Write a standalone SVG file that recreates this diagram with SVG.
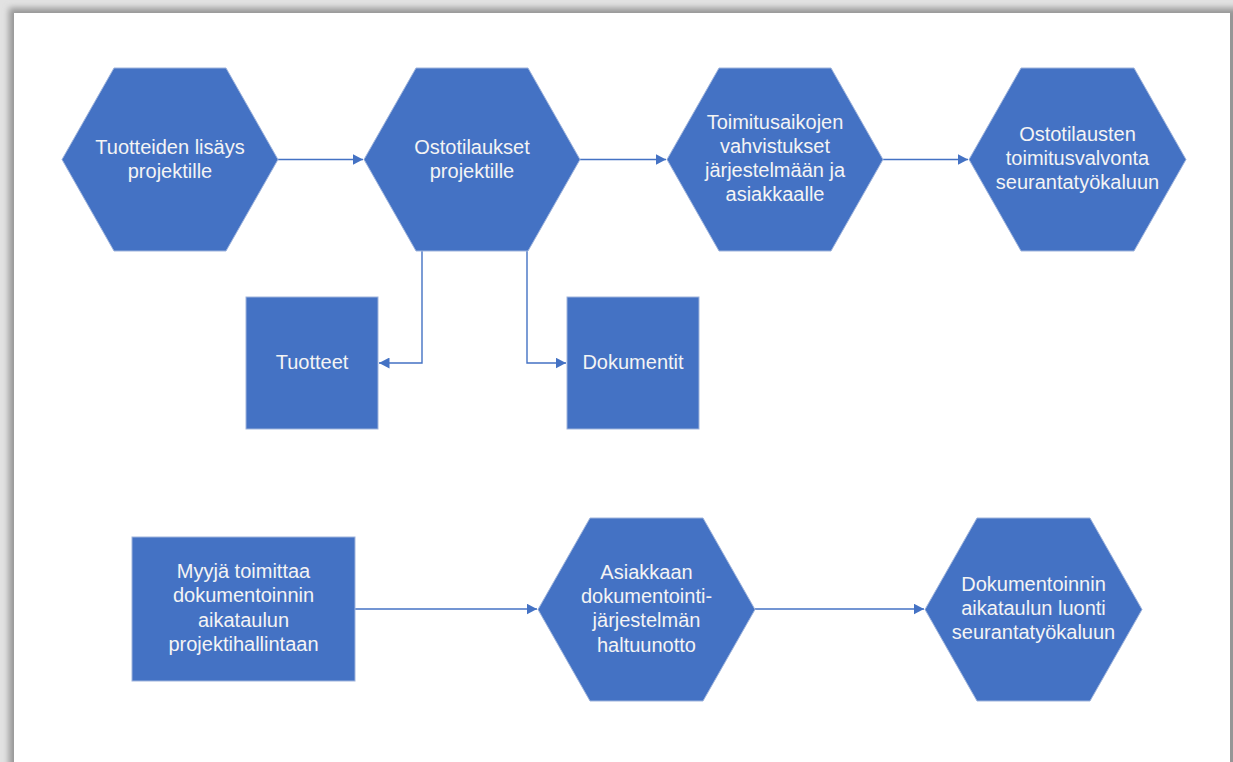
<svg xmlns="http://www.w3.org/2000/svg" width="1233" height="762" viewBox="0 0 1233 762">
<style>
.shape{fill:#4472C4;stroke:#9fb4dc;stroke-width:1}
.lbl{font-family:"Liberation Sans",Arial,sans-serif;font-size:20px;fill:#f4f4f4;text-anchor:middle}
.conn{fill:none;stroke:#4472C4;stroke-width:1.4}
</style>
<defs>
<marker id="arr" markerUnits="userSpaceOnUse" markerWidth="11" markerHeight="11" refX="10.5" refY="5.5" orient="auto">
<path d="M0,0 L10.5,5.5 L0,11 z" fill="#4472C4"/>
</marker>
<filter id="sh" x="-5%" y="-5%" width="110%" height="110%">
<feGaussianBlur stdDeviation="3"/>
</filter>
</defs>
<rect x="0" y="0" width="1233" height="762" fill="#e2e2e2"/>
<rect x="9" y="8" width="1240" height="780" fill="#969696" filter="url(#sh)"/>
<rect x="14" y="13" width="1216" height="760" fill="#ffffff"/>

<g id="connectors">
<path class="conn" d="M278,159.5 H363" marker-end="url(#arr)"/>
<path class="conn" d="M580,159.5 H666" marker-end="url(#arr)"/>
<path class="conn" d="M883,159.5 H968" marker-end="url(#arr)"/>
<path class="conn" d="M422,251 V363 H379" marker-end="url(#arr)"/>
<path class="conn" d="M527,251 V363 H566" marker-end="url(#arr)"/>
<path class="conn" d="M355,609 H537" marker-end="url(#arr)"/>
<path class="conn" d="M755,609 H924" marker-end="url(#arr)"/>
</g>

<g id="n1">
<polygon class="shape" points="114,68 226,68 278,159.5 226,251 114,251 62,159.5"/>
<text class="lbl" x="170"><tspan x="170" y="154">Tuotteiden lisäys</tspan><tspan x="170" y="178">projektille</tspan></text>
</g>
<g id="n2">
<polygon class="shape" points="416,68 528,68 580,159.5 528,251 416,251 364,159.5"/>
<text class="lbl" x="472"><tspan x="472" y="154">Ostotilaukset</tspan><tspan x="472" y="178">projektille</tspan></text>
</g>
<g id="n3">
<polygon class="shape" points="719,68 831,68 883,159.5 831,251 719,251 667,159.5"/>
<text class="lbl" x="775"><tspan x="775" y="129">Toimitusaikojen</tspan><tspan x="775" y="153">vahvistukset</tspan><tspan x="775" y="177">järjestelmään ja</tspan><tspan x="775" y="201">asiakkaalle</tspan></text>
</g>
<g id="n4">
<polygon class="shape" points="1021,68 1134,68 1186,159.5 1134,251 1021,251 969,159.5"/>
<text class="lbl" x="1077.5"><tspan x="1077.5" y="141">Ostotilausten</tspan><tspan x="1077.5" y="165">toimitusvalvonta</tspan><tspan x="1077.5" y="189">seurantatyökaluun</tspan></text>
</g>
<g id="n5">
<rect class="shape" x="246" y="297" width="132" height="132"/>
<text class="lbl" x="312" y="369">Tuotteet</text>
</g>
<g id="n6">
<rect class="shape" x="567" y="297" width="132" height="132"/>
<text class="lbl" x="633" y="369">Dokumentit</text>
</g>
<g id="n7">
<rect class="shape" x="132" y="537" width="223" height="144"/>
<text class="lbl" x="243.5"><tspan x="243.5" y="578">Myyjä toimittaa</tspan><tspan x="243.5" y="602">dokumentoinnin</tspan><tspan x="243.5" y="627">aikataulun</tspan><tspan x="243.5" y="651">projektihallintaan</tspan></text>
</g>
<g id="n8">
<polygon class="shape" points="590,518 703,518 755,609.5 703,701 590,701 538,609.5"/>
<text class="lbl" x="646.5"><tspan x="646.5" y="579">Asiakkaan</tspan><tspan x="646.5" y="603">dokumentointi-</tspan><tspan x="646.5" y="627">järjestelmän</tspan><tspan x="646.5" y="652">haltuunotto</tspan></text>
</g>
<g id="n9">
<polygon class="shape" points="977,518 1090,518 1142,609.5 1090,701 977,701 925,609.5"/>
<text class="lbl" x="1033.5"><tspan x="1033.5" y="591">Dokumentoinnin</tspan><tspan x="1033.5" y="615">aikataulun luonti</tspan><tspan x="1033.5" y="639">seurantatyökaluun</tspan></text>
</g>
</svg>
